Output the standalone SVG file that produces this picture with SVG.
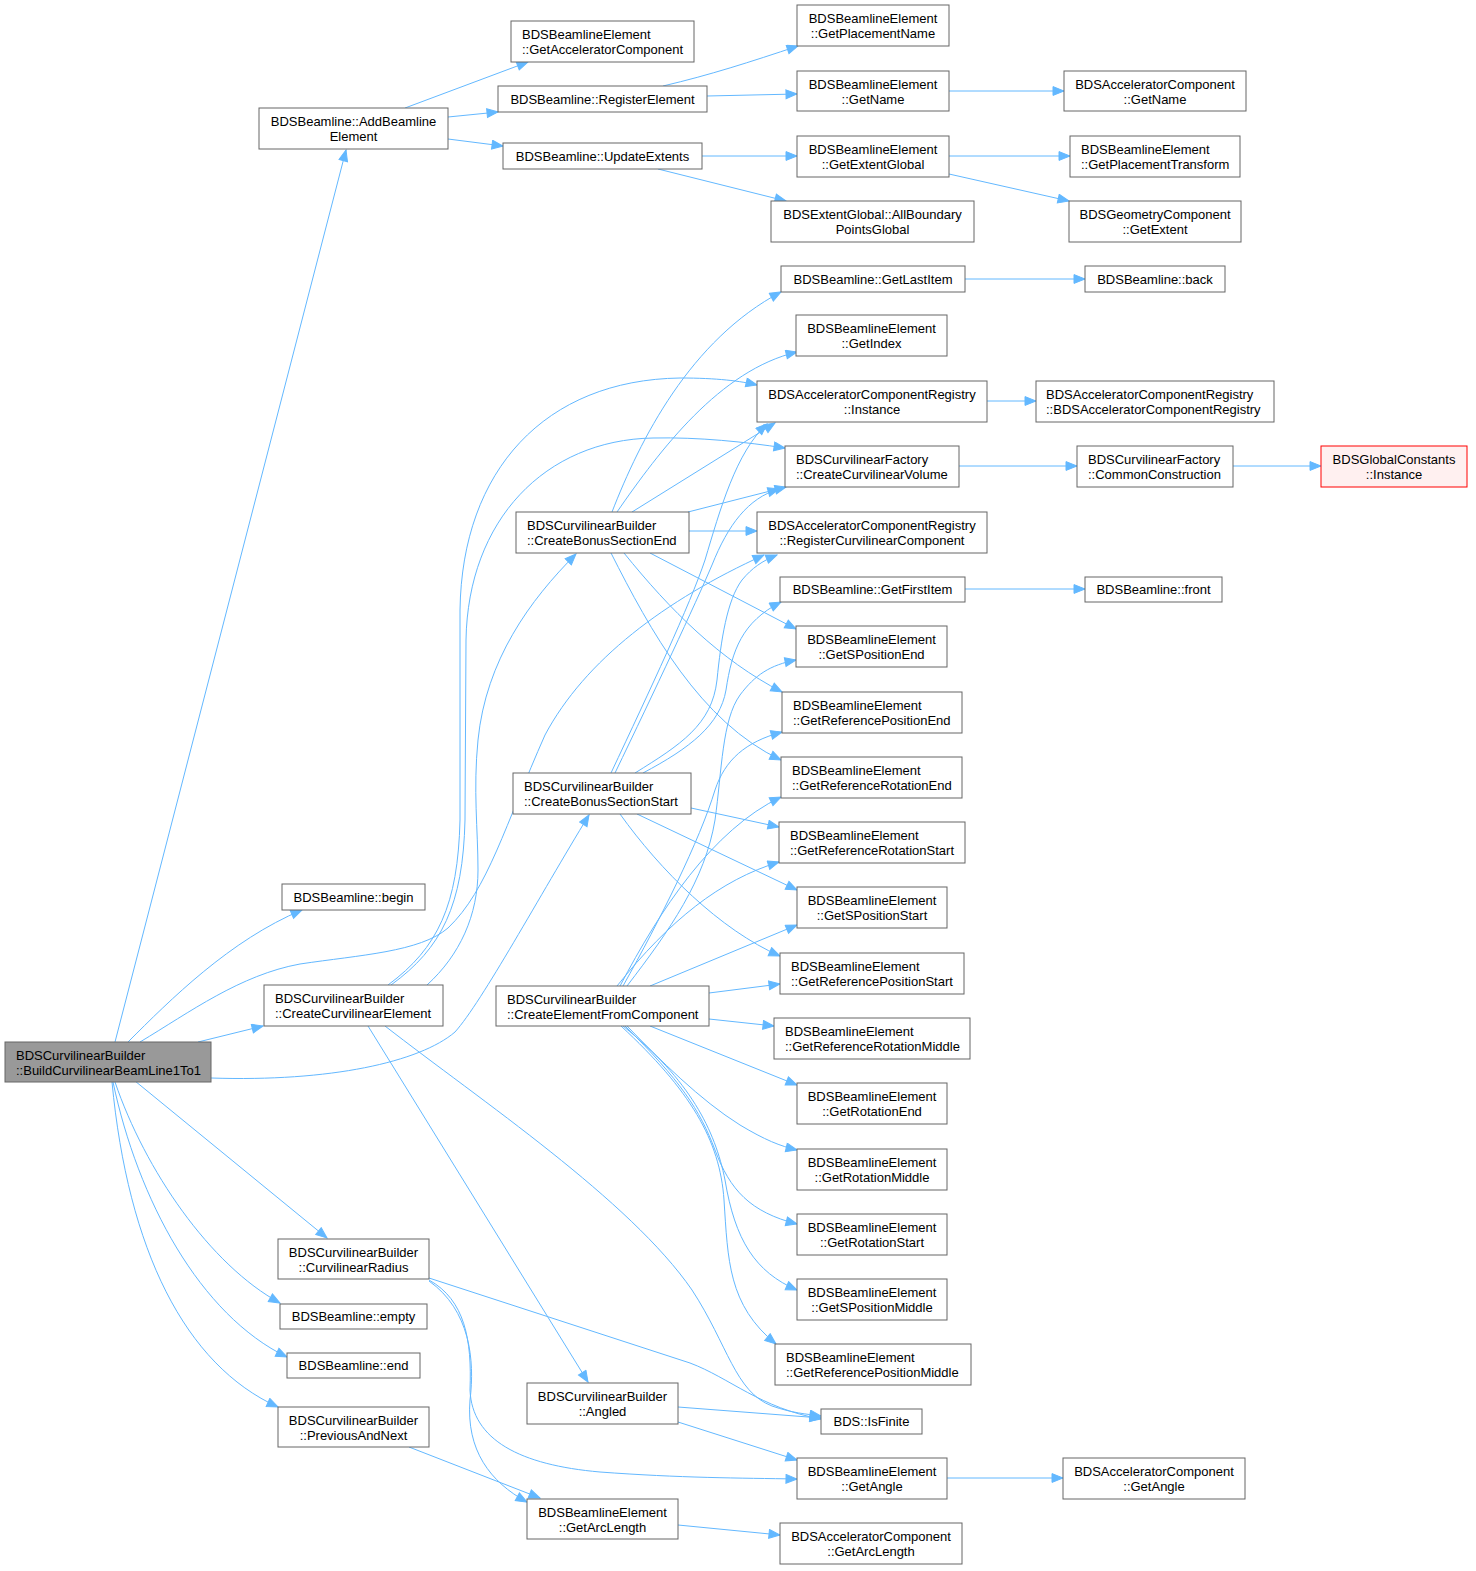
<svg xmlns="http://www.w3.org/2000/svg" width="1476" height="1571" viewBox="0 0 1476 1571">
<style>
.n rect{fill:#ffffff;stroke:#666666;stroke-width:1}
.n text{font-family:"Liberation Sans",Arial,Helvetica,sans-serif;font-size:13px;fill:#000000}
.c{text-anchor:middle}
.e path{fill:none;stroke:#63b8ff;stroke-width:1;marker-end:url(#ah)}
#main rect{fill:#999999}
#gci rect{fill:#fff0f0;stroke:#ff0000}
</style>
<defs>
<marker id="ah" markerUnits="userSpaceOnUse" markerWidth="13" markerHeight="11" refX="12" refY="5" orient="auto">
<path d="M1,0.6 L12,5 L1,9.4 z" fill="#63b8ff" stroke="#63b8ff" stroke-width="1"/>
</marker>
</defs>
<rect width="1476" height="1571" fill="#ffffff"/>
<g id="edges" class="e">
<path d="M115,1042 L346,150"/>
<path d="M128,1042 C170,1000 230,940 302,910"/>
<path d="M198,1042 L263,1026"/>
<path d="M140,1042 C190,1012 240,975 300,964 C360,955 420,952 448,928 C488,890 505,825 545,735 C585,660 665,600 764,555"/>
<path d="M211,1078 C330,1082 420,1062 455,1032 C482,1002 540,895 589,815"/>
<path d="M135,1081 L327,1238"/>
<path d="M115,1082 C145,1170 210,1265 280,1303"/>
<path d="M113,1082 C138,1200 200,1315 287,1357"/>
<path d="M112,1082 C128,1250 185,1365 278,1407"/>
<path d="M405,108 L528,62"/>
<path d="M448,117 L498,112"/>
<path d="M448,139 L503,146"/>
<path d="M663,86 C710,75 750,62 798,46"/>
<path d="M707,96 L797,94"/>
<path d="M702,156 L797,156"/>
<path d="M658,169 L786,201"/>
<path d="M949,91 L1064,91"/>
<path d="M949,156 L1070,156"/>
<path d="M949,174 L1069,201"/>
<path d="M965,279 L1085,279"/>
<path d="M987,401 L1036,401"/>
<path d="M959,466 L1077,466"/>
<path d="M1233,466 L1321,466"/>
<path d="M965,589 L1085,589"/>
<path d="M947,1478 L1063,1478"/>
<path d="M678,1525 L780,1535"/>
<path d="M388,985 C438,948 458,905 460,820 L460,610 C462,470 545,380 680,378 C718,378 740,381 757,385"/>
<path d="M391,985 C442,948 463,905 465,820 L466,640 C468,520 545,440 653,438 C700,437 745,442 785,448"/>
<path d="M427,985 C460,955 478,915 478,870 C478,830 473,790 478,740 C486,660 530,600 576,554"/>
<path d="M368,1026 L588,1382"/>
<path d="M385,1026 C480,1100 630,1200 692,1290 C728,1345 735,1392 772,1406 C792,1413 806,1414 821,1416"/>
<path d="M612,512 C640,440 690,340 781,292"/>
<path d="M617,512 C660,450 720,370 797,352"/>
<path d="M632,512 L775,423"/>
<path d="M688,512 L786,487"/>
<path d="M689,531 L757,531"/>
<path d="M650,553 L796,629"/>
<path d="M624,553 C670,610 720,660 782,692"/>
<path d="M611,553 C650,630 700,722 781,760"/>
<path d="M611,773 C650,690 690,605 705,560 C720,510 736,452 767,424"/>
<path d="M615,773 C655,690 695,605 712,565 C728,525 748,498 779,489"/>
<path d="M635,773 C680,745 712,725 717,680 C721,640 727,600 742,580 C752,568 762,561 777,555"/>
<path d="M643,773 C690,748 720,725 726,690 C732,650 742,622 781,602"/>
<path d="M691,808 L779,827"/>
<path d="M637,814 L797,890"/>
<path d="M620,814 C660,870 720,930 780,956"/>
<path d="M627,986 C670,930 705,880 715,820 C722,770 722,720 740,695 C755,675 770,665 796,660"/>
<path d="M623,986 C660,920 700,840 715,790 C725,760 745,742 782,732"/>
<path d="M620,986 C660,910 712,830 781,797"/>
<path d="M617,986 C670,920 720,880 779,862"/>
<path d="M650,986 L797,925"/>
<path d="M709,993 L780,984"/>
<path d="M709,1019 L774,1026"/>
<path d="M650,1026 L797,1085"/>
<path d="M627,1026 C660,1060 700,1100 740,1125 C765,1140 780,1146 797,1150"/>
<path d="M625,1026 C680,1080 700,1110 715,1150 C730,1190 750,1212 797,1224"/>
<path d="M623,1026 C690,1080 715,1130 725,1180 C735,1240 755,1272 797,1290"/>
<path d="M621,1026 C690,1090 720,1140 724,1200 C728,1260 728,1305 776,1344"/>
<path d="M429,1278 L690,1363 C730,1378 760,1408 821,1419"/>
<path d="M429,1280 C465,1300 472,1340 470,1390 C472,1440 520,1465 600,1472 C680,1478 740,1478 797,1479"/>
<path d="M429,1281 C470,1310 475,1360 470,1400 C466,1450 490,1482 527,1502"/>
<path d="M409,1447 L540,1498"/>
<path d="M678,1407 L821,1418"/>
<path d="M678,1422 L797,1460"/>
</g>
<g id="main" class="n"><rect x="5" y="1042" width="206" height="40"/><text x="16" y="1060">BDSCurvilinearBuilder</text><text x="16" y="1075">::BuildCurvilinearBeamLine1To1</text></g>
<g id="addbe" class="n"><rect x="259" y="108" width="189" height="41"/><text class="c" x="353.5" y="126">BDSBeamline::AddBeamline</text><text class="c" x="353.5" y="141">Element</text></g>
<g id="begin" class="n"><rect x="282" y="884" width="143" height="26"/><text class="c" x="353.5" y="902">BDSBeamline::begin</text></g>
<g id="cce" class="n"><rect x="264" y="985" width="179" height="41"/><text x="275" y="1003">BDSCurvilinearBuilder</text><text x="275" y="1018">::CreateCurvilinearElement</text></g>
<g id="cr" class="n"><rect x="278" y="1239" width="151" height="40"/><text class="c" x="353.5" y="1257">BDSCurvilinearBuilder</text><text class="c" x="353.5" y="1272">::CurvilinearRadius</text></g>
<g id="empty" class="n"><rect x="280" y="1304" width="147" height="25"/><text class="c" x="353.5" y="1321">BDSBeamline::empty</text></g>
<g id="end" class="n"><rect x="287" y="1353" width="133" height="25"/><text class="c" x="353.5" y="1370">BDSBeamline::end</text></g>
<g id="pan" class="n"><rect x="278" y="1407" width="151" height="40"/><text class="c" x="353.5" y="1425">BDSCurvilinearBuilder</text><text class="c" x="353.5" y="1440">::PreviousAndNext</text></g>
<g id="gac" class="n"><rect x="511" y="21" width="183" height="41"/><text x="522" y="39">BDSBeamlineElement</text><text x="522" y="54">::GetAcceleratorComponent</text></g>
<g id="regel" class="n"><rect x="498" y="86" width="209" height="26"/><text class="c" x="602.5" y="104">BDSBeamline::RegisterElement</text></g>
<g id="updex" class="n"><rect x="503" y="143" width="199" height="26"/><text class="c" x="602.5" y="161">BDSBeamline::UpdateExtents</text></g>
<g id="cbse" class="n"><rect x="516" y="512" width="173" height="41"/><text x="527" y="530">BDSCurvilinearBuilder</text><text x="527" y="545">::CreateBonusSectionEnd</text></g>
<g id="cbss" class="n"><rect x="513" y="773" width="178" height="41"/><text x="524" y="791">BDSCurvilinearBuilder</text><text x="524" y="806">::CreateBonusSectionStart</text></g>
<g id="cefc" class="n"><rect x="496" y="986" width="213" height="40"/><text x="507" y="1004">BDSCurvilinearBuilder</text><text x="507" y="1019">::CreateElementFromComponent</text></g>
<g id="angled" class="n"><rect x="527" y="1383" width="151" height="41"/><text class="c" x="602.5" y="1401">BDSCurvilinearBuilder</text><text class="c" x="602.5" y="1416">::Angled</text></g>
<g id="galbe" class="n"><rect x="527" y="1499" width="151" height="40"/><text class="c" x="602.5" y="1517">BDSBeamlineElement</text><text class="c" x="602.5" y="1532">::GetArcLength</text></g>
<g id="gpn" class="n"><rect x="797" y="5" width="152" height="41"/><text class="c" x="873" y="23">BDSBeamlineElement</text><text class="c" x="873" y="38">::GetPlacementName</text></g>
<g id="gname" class="n"><rect x="797" y="71" width="152" height="40"/><text class="c" x="873" y="89">BDSBeamlineElement</text><text class="c" x="873" y="104">::GetName</text></g>
<g id="geg" class="n"><rect x="797" y="136" width="152" height="41"/><text class="c" x="873" y="154">BDSBeamlineElement</text><text class="c" x="873" y="169">::GetExtentGlobal</text></g>
<g id="abpg" class="n"><rect x="771" y="201" width="203" height="41"/><text class="c" x="872.5" y="219">BDSExtentGlobal::AllBoundary</text><text class="c" x="872.5" y="234">PointsGlobal</text></g>
<g id="gli" class="n"><rect x="781" y="266" width="184" height="26"/><text class="c" x="873" y="284">BDSBeamline::GetLastItem</text></g>
<g id="gidx" class="n"><rect x="796" y="315" width="151" height="41"/><text class="c" x="871.5" y="333">BDSBeamlineElement</text><text class="c" x="871.5" y="348">::GetIndex</text></g>
<g id="acri" class="n"><rect x="757" y="381" width="230" height="41"/><text class="c" x="872" y="399">BDSAcceleratorComponentRegistry</text><text class="c" x="872" y="414">::Instance</text></g>
<g id="ccv" class="n"><rect x="785" y="446" width="174" height="41"/><text x="796" y="464">BDSCurvilinearFactory</text><text x="796" y="479">::CreateCurvilinearVolume</text></g>
<g id="rcc" class="n"><rect x="757" y="512" width="230" height="41"/><text class="c" x="872" y="530">BDSAcceleratorComponentRegistry</text><text class="c" x="872" y="545">::RegisterCurvilinearComponent</text></g>
<g id="gfi" class="n"><rect x="780" y="577" width="185" height="25"/><text class="c" x="872.5" y="594">BDSBeamline::GetFirstItem</text></g>
<g id="gspe" class="n"><rect x="796" y="626" width="151" height="41"/><text class="c" x="871.5" y="644">BDSBeamlineElement</text><text class="c" x="871.5" y="659">::GetSPositionEnd</text></g>
<g id="grpe" class="n"><rect x="782" y="692" width="180" height="41"/><text x="793" y="710">BDSBeamlineElement</text><text x="793" y="725">::GetReferencePositionEnd</text></g>
<g id="grre" class="n"><rect x="781" y="757" width="181" height="41"/><text x="792" y="775">BDSBeamlineElement</text><text x="792" y="790">::GetReferenceRotationEnd</text></g>
<g id="grrs" class="n"><rect x="779" y="822" width="186" height="41"/><text x="790" y="840">BDSBeamlineElement</text><text x="790" y="855">::GetReferenceRotationStart</text></g>
<g id="gsps" class="n"><rect x="797" y="887" width="150" height="41"/><text class="c" x="872" y="905">BDSBeamlineElement</text><text class="c" x="872" y="920">::GetSPositionStart</text></g>
<g id="grps" class="n"><rect x="780" y="953" width="184" height="41"/><text x="791" y="971">BDSBeamlineElement</text><text x="791" y="986">::GetReferencePositionStart</text></g>
<g id="grrm" class="n"><rect x="774" y="1018" width="196" height="41"/><text x="785" y="1036">BDSBeamlineElement</text><text x="785" y="1051">::GetReferenceRotationMiddle</text></g>
<g id="gre" class="n"><rect x="797" y="1083" width="150" height="41"/><text class="c" x="872" y="1101">BDSBeamlineElement</text><text class="c" x="872" y="1116">::GetRotationEnd</text></g>
<g id="grm" class="n"><rect x="797" y="1149" width="150" height="41"/><text class="c" x="872" y="1167">BDSBeamlineElement</text><text class="c" x="872" y="1182">::GetRotationMiddle</text></g>
<g id="grs" class="n"><rect x="797" y="1214" width="150" height="41"/><text class="c" x="872" y="1232">BDSBeamlineElement</text><text class="c" x="872" y="1247">::GetRotationStart</text></g>
<g id="gspm" class="n"><rect x="797" y="1279" width="150" height="41"/><text class="c" x="872" y="1297">BDSBeamlineElement</text><text class="c" x="872" y="1312">::GetSPositionMiddle</text></g>
<g id="grpm" class="n"><rect x="775" y="1344" width="196" height="41"/><text x="786" y="1362">BDSBeamlineElement</text><text x="786" y="1377">::GetReferencePositionMiddle</text></g>
<g id="isf" class="n"><rect x="821" y="1409" width="101" height="25"/><text class="c" x="871.5" y="1426">BDS::IsFinite</text></g>
<g id="gang" class="n"><rect x="797" y="1458" width="150" height="41"/><text class="c" x="872" y="1476">BDSBeamlineElement</text><text class="c" x="872" y="1491">::GetAngle</text></g>
<g id="acgal" class="n"><rect x="780" y="1523" width="182" height="41"/><text class="c" x="871" y="1541">BDSAcceleratorComponent</text><text class="c" x="871" y="1556">::GetArcLength</text></g>
<g id="acgn" class="n"><rect x="1064" y="71" width="182" height="40"/><text class="c" x="1155" y="89">BDSAcceleratorComponent</text><text class="c" x="1155" y="104">::GetName</text></g>
<g id="gpt" class="n"><rect x="1070" y="136" width="170" height="41"/><text x="1081" y="154">BDSBeamlineElement</text><text x="1081" y="169">::GetPlacementTransform</text></g>
<g id="gcge" class="n"><rect x="1069" y="201" width="172" height="41"/><text class="c" x="1155" y="219">BDSGeometryComponent</text><text class="c" x="1155" y="234">::GetExtent</text></g>
<g id="back" class="n"><rect x="1085" y="266" width="140" height="26"/><text class="c" x="1155" y="284">BDSBeamline::back</text></g>
<g id="acracr" class="n"><rect x="1036" y="381" width="238" height="41"/><text x="1046" y="399">BDSAcceleratorComponentRegistry</text><text x="1046" y="414">::BDSAcceleratorComponentRegistry</text></g>
<g id="cc" class="n"><rect x="1077" y="446" width="156" height="41"/><text x="1088" y="464">BDSCurvilinearFactory</text><text x="1088" y="479">::CommonConstruction</text></g>
<g id="gci" class="n"><rect x="1321" y="446" width="146" height="41"/><text class="c" x="1394" y="464">BDSGlobalConstants</text><text class="c" x="1394" y="479">::Instance</text></g>
<g id="front" class="n"><rect x="1085" y="577" width="137" height="25"/><text class="c" x="1153.5" y="594">BDSBeamline::front</text></g>
<g id="acga" class="n"><rect x="1063" y="1458" width="182" height="41"/><text class="c" x="1154" y="1476">BDSAcceleratorComponent</text><text class="c" x="1154" y="1491">::GetAngle</text></g>
</svg>
